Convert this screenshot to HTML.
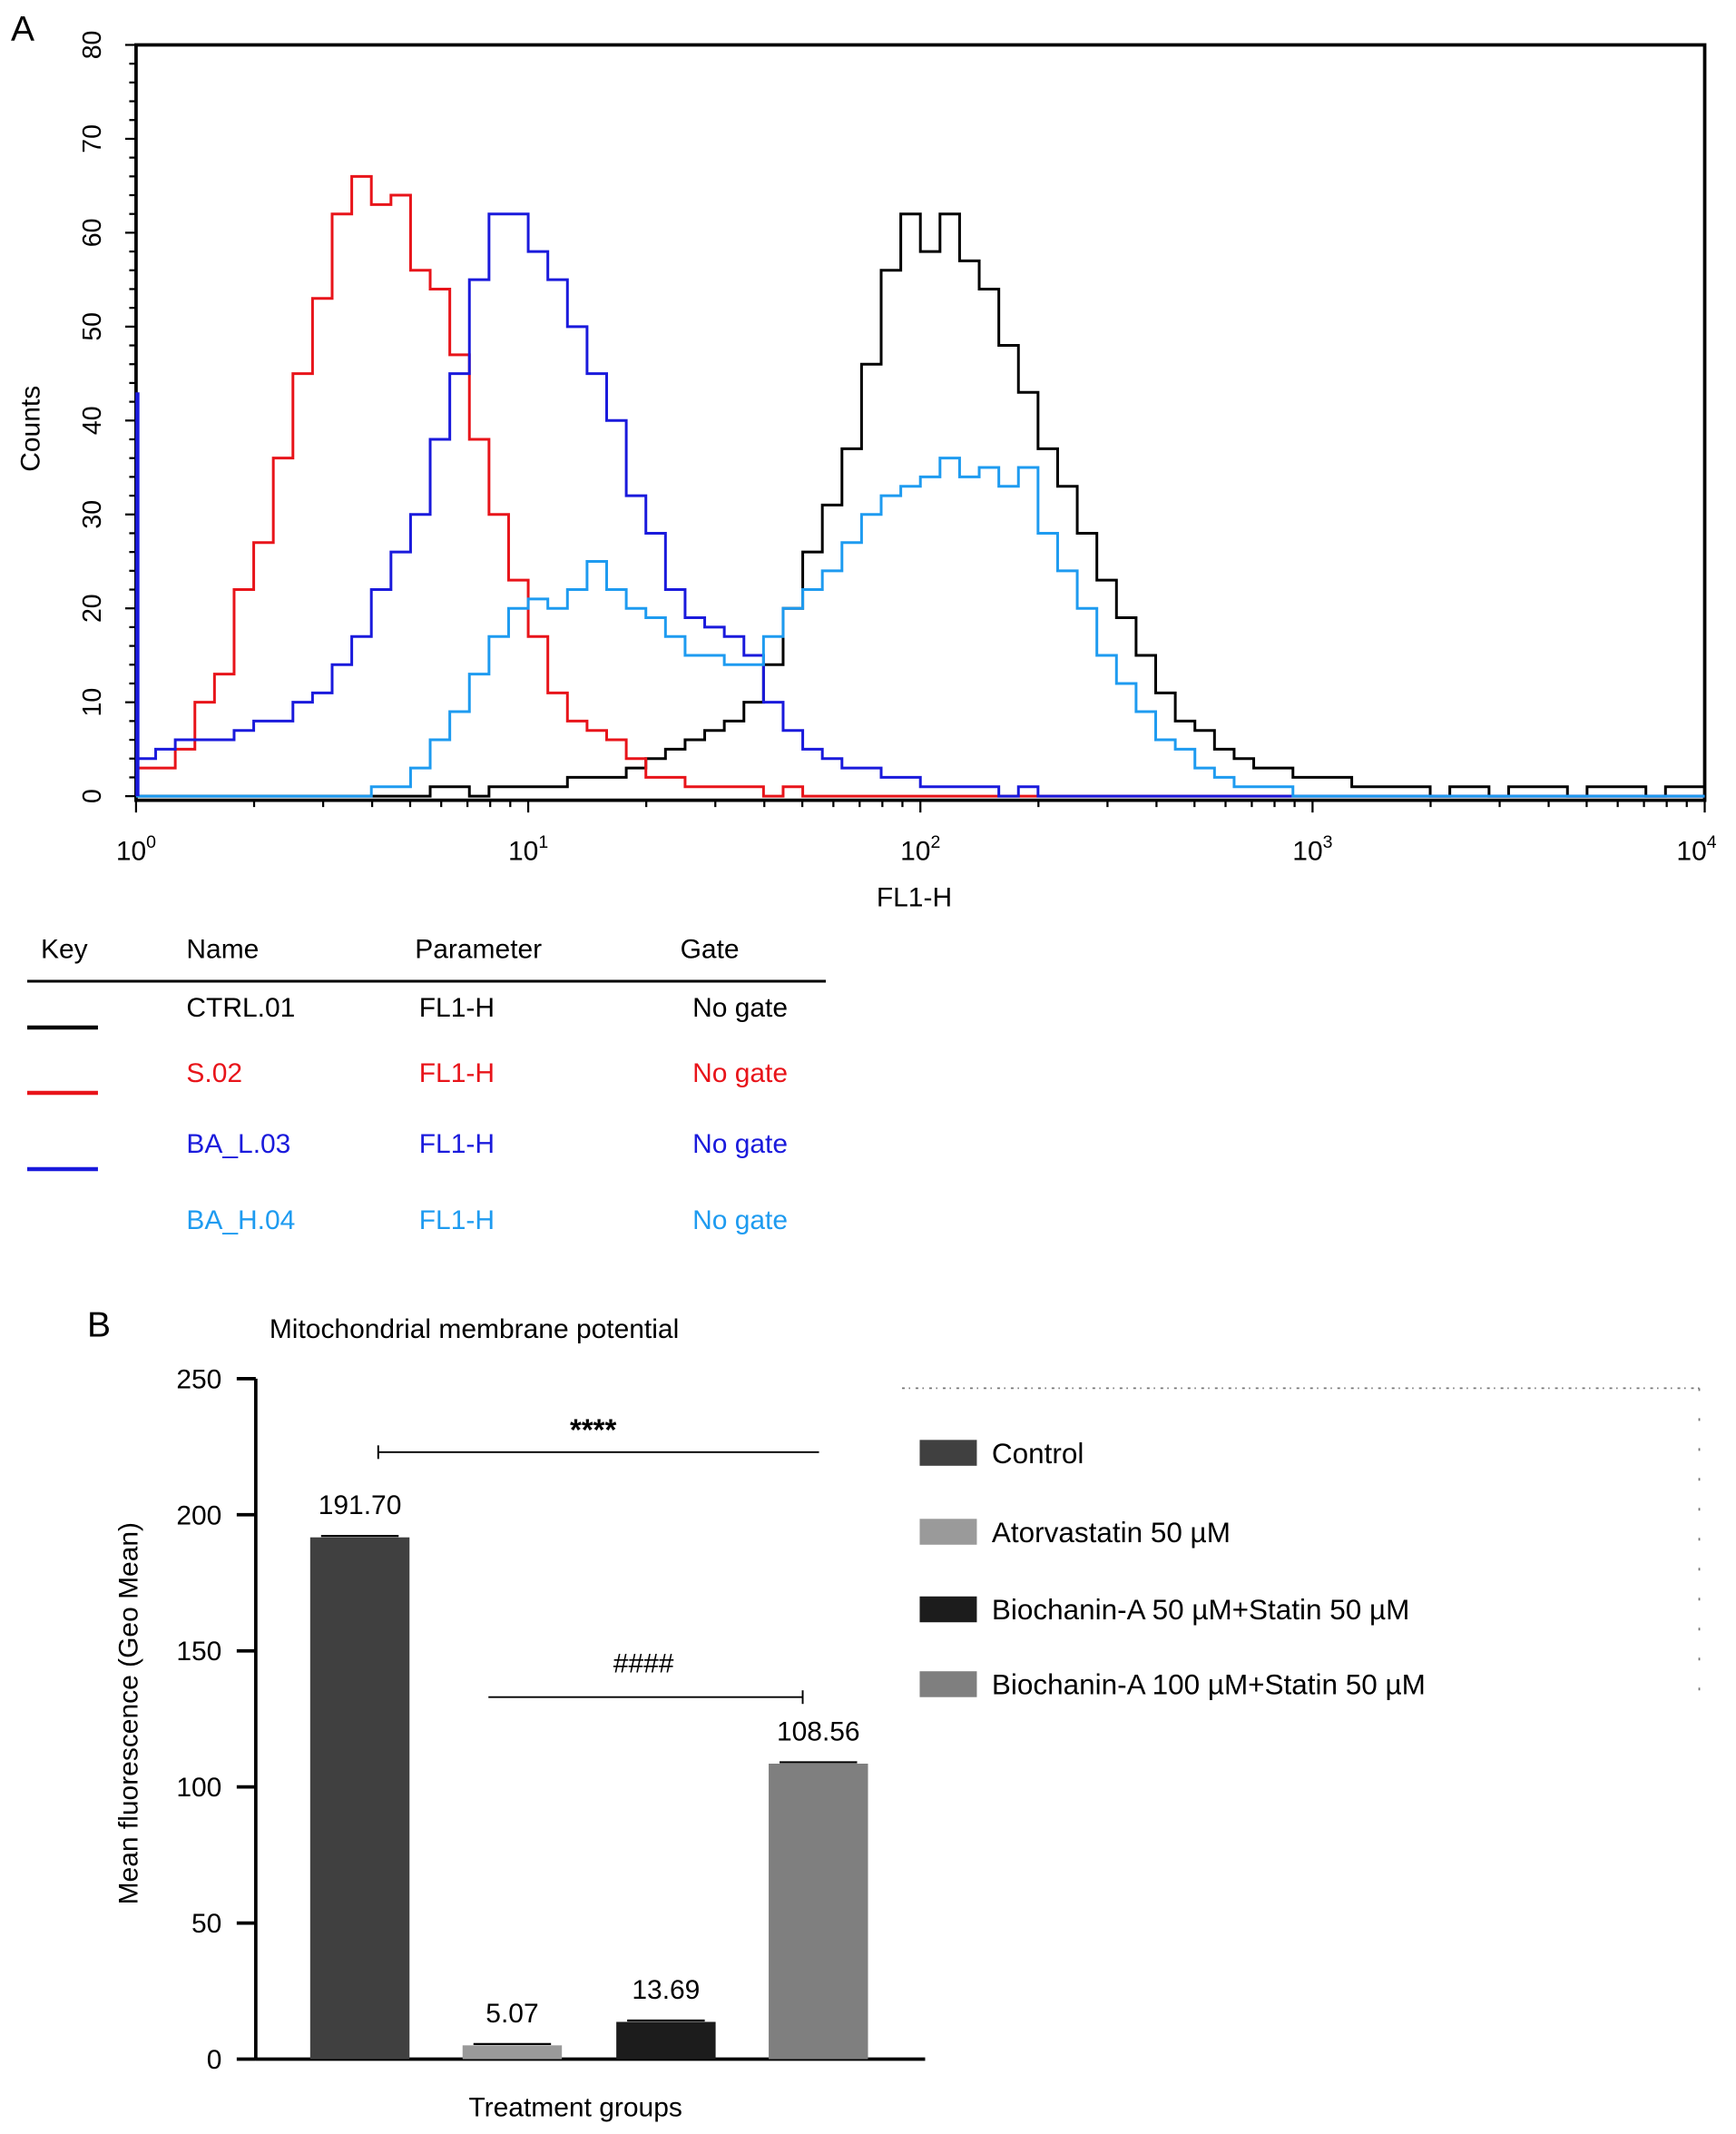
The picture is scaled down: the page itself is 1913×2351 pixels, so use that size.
<!DOCTYPE html>
<html><head><meta charset="utf-8"><style>
html,body{margin:0;padding:0;background:#fff}
svg{display:block}
text{font-family:"Liberation Sans",sans-serif}
</style></head><body>
<svg id="fig" width="1913" height="2351" viewBox="0 0 1276 1568" preserveAspectRatio="none" xmlns="http://www.w3.org/2000/svg">
<g id="panelA"></g>
<g id="legendA"></g>
<g id="panelB"></g>
</svg>
<script>
// ---------- Panel A data (bins every 0.05 decades, starting at 10^0) ----------
const binStep = 0.05;
const redCounts = [3,3,5,10,13,22,27,36,45,53,62,66,63,64,56,54,47,38,30,23,17,11,8,7,6,4,2,2,1,1,1,1,0,1,0,0,0,0,0,0,0,0,0,0,0,0,0,0,0,0,0,0,0,0,0,0,0,0,0,0,0,0,0,0,0,0,0,0,0,0,0,0,0,0,0,0,0,0,0,0];
const blueCounts = [4,5,6,6,6,7,8,8,10,11,14,17,22,26,30,38,45,55,62,62,58,55,50,45,40,32,28,22,19,18,17,15,10,7,5,4,3,3,2,2,1,1,1,1,0,1,0,0,0,0,0,0,0,0,0,0,0,0,0,0,0,0,0,0,0,0,0,0,0,0,0,0,0,0,0,0,0,0,0,0];
const lightBlueCounts = [0,0,0,0,0,0,0,0,0,0,0,0,1,1,3,6,9,13,17,20,21,20,22,25,22,20,19,17,15,15,14,14,17,20,22,24,27,30,32,33,34,36,34,35,33,35,28,24,20,15,12,9,6,5,3,2,1,1,1,0,0,0,0,0,0,0,0,0,0,0,0,0,0,0,0,0,0,0,0,0];
const blackCounts = [0,0,0,0,0,0,0,0,0,0,0,0,0,0,0,1,1,0,1,1,1,1,2,2,2,3,4,5,6,7,8,10,14,20,26,31,37,46,56,62,58,62,57,54,48,43,37,33,28,23,19,15,11,8,7,5,4,3,3,2,2,2,1,1,1,1,0,1,1,0,1,1,1,0,1,1,1,0,1,1];
const yTicksA = [0,10,20,30,40,50,60,70,80];
const xDecades = [0,1,2,3,4];
const blueSpike = 43;

// ---------- Panel B data ----------
const groups = ["Control","Atorvastatin 50 µM","Biochanin-A 50 µM+Statin 50 µM","Biochanin-A 100 µM+Statin 50 µM"];
const meanValues = [191.70,5.07,13.69,108.56];
const valueLabels = ["191.70","5.07","13.69","108.56"];
const yTicksB = [0,50,100,150,200,250];

const NS="http://www.w3.org/2000/svg";
function mk(parent,tag,attrs,txt){const e=document.createElementNS(NS,tag);for(const k in attrs)e.setAttribute(k,attrs[k]);if(txt!==undefined)e.textContent=txt;parent.appendChild(e);return e;}

// ---- Panel A ----
const A=document.getElementById('panelA');
const AL=100,AR=1253,AT=33,AB=585;
const xA=l=>AL+(AR-AL)*l/4;
const yA=v=>AB-(AB-AT)*v/80;
let t=mk(A,'text',{x:8,y:30,'font-size':26},'A');


let fr=mk(A,'rect',{x:AL,y:AT,width:AR-AL,height:AB-AT+3,fill:'none',stroke:'#000','stroke-width':2.5});


for(let v=0;v<=80;v+=2){const big=v%10===0;mk(A,'line',{x1:AL-(big?8:5),x2:AL,y1:yA(v),y2:yA(v),stroke:'#000','stroke-width':1.5});}
yTicksA.forEach(v=>{const e=mk(A,'text',{x:0,y:0,'font-size':19,'text-anchor':'middle',transform:`translate(74,${yA(v)}) rotate(-90)`},String(v));

});
t=mk(A,'text',{x:0,y:0,'font-size':20,'text-anchor':'middle',transform:'translate(29,315) rotate(-90)'},'Counts');


for(let d=0;d<4;d++){for(let m=1;m<10;m++){const l=d+Math.log10(m);mk(A,'line',{x1:xA(l),x2:xA(l),y1:AB+2,y2:AB+(m===1?12:8),stroke:'#000','stroke-width':1.5});}}
mk(A,'line',{x1:xA(4),x2:xA(4),y1:AB+2,y2:AB+12,stroke:'#000','stroke-width':1.5});
xDecades.forEach(d=>{const g=mk(A,'text',{x:xA(d)-(d===4?6:0),y:632,'font-size':20,'text-anchor':'middle'});


mk(g,'tspan',{},'10');mk(g,'tspan',{dy:-9,'font-size':13},String(d));});
t=mk(A,'text',{x:672,y:666,'font-size':20,'text-anchor':'middle'},'FL1-H');


function stepPath(arr){let d='';arr.forEach((v,i)=>{const x0=xA(i*binStep),x1=xA(Math.min(4,(i+1)*binStep));d+=(i===0?'M':'L')+x0+','+yA(v)+'L'+x1+','+yA(v);});return d;}
const series=[[blackCounts,'#000','series-ctrl-01'],[redCounts,'#e8141a','series-s-02'],[blueCounts,'#1a1adc','series-ba-l-03'],[lightBlueCounts,'#1e9bf0','series-ba-h-04']];
series.forEach(s=>{const p=mk(A,'path',{d:stepPath(s[0]),fill:'none',stroke:s[1],'stroke-width':2});

});
let sp=mk(A,'line',{x1:AL+1,x2:AL+1,y1:AB,y2:yA(blueSpike),stroke:'#1a1adc','stroke-width':3});



// ---- Legend table ----
const L=document.getElementById('legendA');
[['Key',30],['Name',137],['Parameter',305],['Gate',500]].forEach(h=>{const e=mk(L,'text',{x:h[1],y:704,'font-size':20},h[0]);

});
mk(L,'line',{x1:20,x2:607,y1:721,y2:721,stroke:'#000','stroke-width':2});
const rows=[['CTRL.01','#000',747,755],['S.02','#e8141a',795,803],['BA_L.03','#1a1adc',847,859],['BA_H.04','#1e9bf0',903,null]];
rows.forEach(r=>{
 const e1=mk(L,'text',{x:137,y:r[2],'font-size':20,fill:r[1]},r[0]);
 
 
 const e2=mk(L,'text',{x:308,y:r[2],'font-size':20,fill:r[1]},'FL1-H');
 
 
 const e3=mk(L,'text',{x:509,y:r[2],'font-size':20,fill:r[1]},'No gate');
 
 
 if(r[3]){const k=mk(L,'line',{x1:20,x2:72,y1:r[3],y2:r[3],stroke:r[1],'stroke-width':3});
 
 }
});

// ---- Panel B ----
const B=document.getElementById('panelB');
const BX=188,BB=1513,BT=1013;
const yB=v=>BB-(BB-BT)*v/250;
t=mk(B,'text',{x:64,y:982,'font-size':26},'B');


t=mk(B,'text',{x:198,y:983,'font-size':20},'Mitochondrial membrane potential');


mk(B,'line',{x1:BX,x2:BX,y1:BT,y2:BB+1,stroke:'#000','stroke-width':2.5});
mk(B,'line',{x1:BX,x2:680,y1:BB,y2:BB,stroke:'#000','stroke-width':2.5});
yTicksB.forEach(v=>{mk(B,'line',{x1:BX-14,x2:BX,y1:yB(v),y2:yB(v),stroke:'#000','stroke-width':2.5});
const e=mk(B,'text',{x:163,y:yB(v)+7,'font-size':20,'text-anchor':'end'},String(v));

});
t=mk(B,'text',{x:0,y:0,'font-size':20,'text-anchor':'middle',transform:'translate(101,1259) rotate(-90)'},'Mean fluorescence (Geo Mean)');


t=mk(B,'text',{x:423,y:1555,'font-size':20,'text-anchor':'middle'},'Treatment groups');


const barColors=['#404040','#9a9a9a','#1c1c1c','#7f7f7f'];
const barX=[228,340,453,565],barW=73;
meanValues.forEach((v,i)=>{
 const r=mk(B,'rect',{x:barX[i],y:yB(v),width:barW,height:BB-yB(v),fill:barColors[i]});
 
 
 mk(B,'line',{x1:barX[i]+8,x2:barX[i]+barW-8,y1:yB(v)-1,y2:yB(v)-1,stroke:'#000','stroke-width':1.5});
 const e=mk(B,'text',{x:barX[i]+barW/2,y:yB(v)-17,'font-size':20,'text-anchor':'middle'},valueLabels[i]);
 
 
});
mk(B,'line',{x1:278,x2:602,y1:1067,y2:1067,stroke:'#000','stroke-width':1.3});
mk(B,'line',{x1:278,x2:278,y1:1062,y2:1072,stroke:'#000','stroke-width':1.3});
t=mk(B,'text',{x:436,y:1058,'font-size':22,'font-weight':'bold','text-anchor':'middle'},'****');


mk(B,'line',{x1:359,x2:590,y1:1247,y2:1247,stroke:'#000','stroke-width':1.3});
mk(B,'line',{x1:590,x2:590,y1:1242,y2:1252,stroke:'#000','stroke-width':1.3});
t=mk(B,'text',{x:473,y:1229,'font-size':20,'text-anchor':'middle'},'####');


mk(B,'line',{x1:663,x2:1249,y1:1020,y2:1020,stroke:'#777','stroke-width':1.2,'stroke-dasharray':'2 3 1 4'});
mk(B,'line',{x1:1249,x2:1249,y1:1020,y2:1258,stroke:'#777','stroke-width':1.2,'stroke-dasharray':'2 20'});
const legY=[1058,1116,1173,1228];
groups.forEach((g,i)=>{
 const s=mk(B,'rect',{x:676,y:legY[i],width:42,height:19,fill:barColors[i]});
 
 
 const e=mk(B,'text',{x:729,y:legY[i]+17,'font-size':21},g);
 
 
});
</script>
</body></html>
